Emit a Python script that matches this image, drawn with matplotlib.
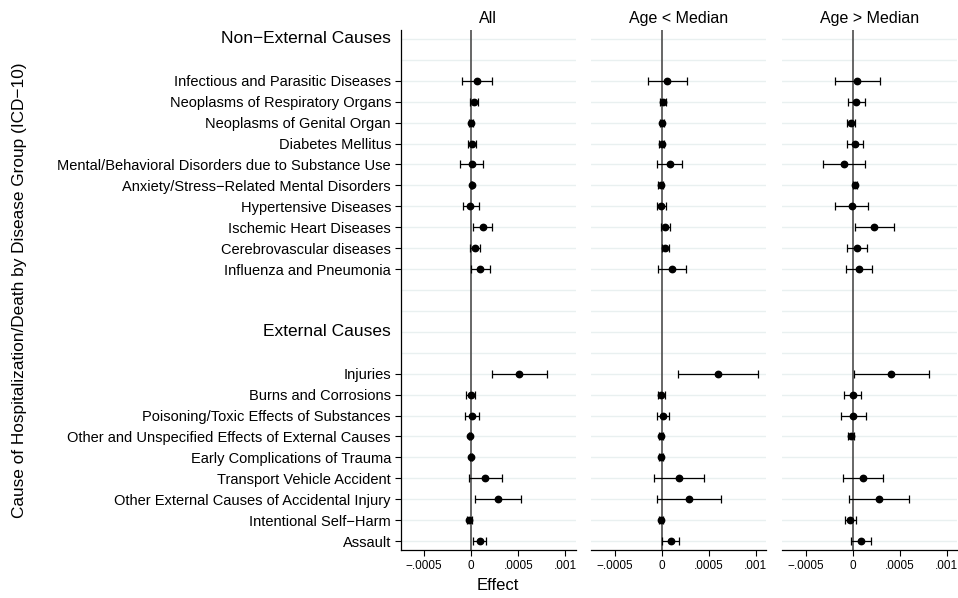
import numpy as np
import matplotlib
matplotlib.use("Agg")
import matplotlib.pyplot as plt
from matplotlib.transforms import ScaledTranslation

plt.rcParams['font.family'] = ['Liberation Sans', 'DejaVu Sans']

# categories
non_external = [
    "Infectious and Parasitic Diseases",
    "Neoplasms of Respiratory Organs",
    "Neoplasms of Genital Organ",
    "Diabetes Mellitus",
    "Mental/Behavioral Disorders due to Substance Use",
    "Anxiety/Stress\u2212Related Mental Disorders",
    "Hypertensive Diseases",
    "Ischemic Heart Diseases",
    "Cerebrovascular diseases",
    "Influenza and Pneumonia",
]
external = [
    "Injuries",
    "Burns and Corrosions",
    "Poisoning/Toxic Effects of Substances",
    "Other and Unspecified Effects of External Causes",
    "Early Complications of Trauma",
    "Transport Vehicle Accident",
    "Other External Causes of Accidental Injury",
    "Intentional Self\u2212Harm",
    "Assault",
]
group_titles = ["Non\u2212External Causes", "External Causes"]
panel_titles = ["All", "Age < Median", "Age > Median"]

# estimates and 95% CI (non-external first, then external), units of effect
est_all = [0.000056, 0.000026, -0.000004, 0.000011, 0.000004, 0.000003, -0.000011, 0.000123, 0.000037, 0.000090,
           0.000511, -0.000004, 0.000007, -0.000015, -0.000004, 0.000146, 0.000284, -0.000019, 0.000090]
lo_all = [-0.000100, -0.000015, -0.000020, -0.000030, -0.000120, -0.000008, -0.000090, 0.000022, -0.000010, -0.000007,
          0.000216, -0.000052, -0.000063, -0.000028, -0.000015, -0.000026, 0.000045, -0.000049, 0.000019]
hi_all = [0.000216, 0.000067, 0.000019, 0.000050, 0.000130, 0.000012, 0.000080, 0.000224, 0.000093, 0.000194,
          0.000802, 0.000041, 0.000078, -0.000002, 0.000008, 0.000325, 0.000526, 0.000011, 0.000157]

est_young = [0.000063, 0.000011, 0.000007, 0.000000, 0.000086, -0.000011, -0.000004, 0.000041, 0.000041, 0.000112,
             0.000597, -0.000007, 0.000011, -0.000007, -0.000004, 0.000183, 0.000287, -0.000007, 0.000097]
lo_young = [-0.000146, -0.000015, -0.000015, -0.000026, -0.000049, -0.000034, -0.000052, -0.000007, 0.000000, -0.000034,
            0.000179, -0.000040, -0.000049, -0.000028, -0.000022, -0.000082, -0.000052, -0.000030, 0.000004]
hi_young = [0.000272, 0.000045, 0.000030, 0.000030, 0.000220, 0.000015, 0.000045, 0.000090, 0.000082, 0.000261,
            0.001020, 0.000034, 0.000078, 0.000014, 0.000014, 0.000448, 0.000630, 0.000018, 0.000190]

est_old = [0.000052, 0.000037, -0.000015, 0.000026, -0.000086, 0.000022, -0.000011, 0.000231, 0.000045, 0.000067,
           0.000410, 0.000000, 0.000007, -0.000019, np.nan, 0.000112, 0.000284, -0.000022, 0.000086]
lo_old = [-0.000190, -0.000052, -0.000060, -0.000060, -0.000310, 0.000000, -0.000190, 0.000022, -0.000060, -0.000075,
          0.000015, -0.000086, -0.000120, -0.000045, np.nan, -0.000100, -0.000034, -0.000078, -0.000015]
hi_old = [0.000291, 0.000131, 0.000030, 0.000112, 0.000134, 0.000045, 0.000168, 0.000440, 0.000150, 0.000209,
          0.000813, 0.000090, 0.000142, 0.000010, np.nan, 0.000325, 0.000604, 0.000034, 0.000191]

panels = [(est_all, lo_all, hi_all), (est_young, lo_young, hi_young), (est_old, lo_old, hi_old)]

# row layout: header, blank, 10 items, 2 blanks, header, blank, 9 items
header_rows = [0, 14]
item_rows = list(range(2, 2 + len(non_external))) + list(range(16, 16 + len(external)))
n_rows = 25
item_labels = non_external + external

xticks = [-0.0005, 0, 0.0005, 0.001]
xticklabels = ["\u2212.0005", "0", ".0005", ".001"]

fig = plt.figure(figsize=(9.58, 5.98), dpi=100)
W, H = 958, 598
lefts = [400.7, 591, 782]
width = 175
top, bottom = 30, 550

grid_col = "#e9f0f0"
for i, (est, lo, hi) in enumerate(panels):
    ax = fig.add_axes([lefts[i] / W, 1 - bottom / H, width / W, (bottom - top) / H])
    est = np.array(est)
    lo = np.array(lo)
    hi = np.array(hi)
    y = np.array(item_rows)
    for r in range(n_rows):
        ax.axhline(r, color=grid_col, lw=1.0, zorder=0)
    ax.axvline(0, color="#5a5a5a", lw=1.3, zorder=1)
    ok = ~np.isnan(est)
    ax.errorbar(est[ok], y[ok], xerr=[est[ok] - lo[ok], hi[ok] - est[ok]], fmt='o', color='black',
                ms=4.6, elinewidth=0.9, capsize=2.6, capthick=0.9, zorder=3)
    ax.set_xlim(-0.00075, 0.00111)
    ax.set_ylim(n_rows - 1 + 0.43, -0.43)
    ax.set_xticks(xticks)
    ax.set_xticklabels(xticklabels, fontsize=8.5)
    ax.tick_params(axis='x', length=4, width=0.8, pad=3)
    for s in ['top', 'right']:
        ax.spines[s].set_visible(False)
    ax.spines['bottom'].set_linewidth(0.9)
    ax.set_title(panel_titles[i], fontsize=11.5, pad=5)
    if i == 0:
        ax.spines['left'].set_linewidth(0.9)
        ax.set_yticks(item_rows)
        ax.set_yticklabels(item_labels, fontsize=10.5)
        ax.tick_params(axis='y', length=4, width=0.8, pad=3)
        off = ScaledTranslation(-10 / 100, 0, fig.dpi_scale_trans)
        for r, t in zip(header_rows, group_titles):
            ax.text(0, r, t, transform=ax.get_yaxis_transform() + off, ha='right', va='center', fontsize=12.5)
    else:
        ax.spines['left'].set_visible(False)
        ax.set_yticks([])

fig.text(498 / W, 1 - 586 / H, "Effect", ha='center', va='center', fontsize=12)
fig.text(20 / W, 1 - 290 / H, "Cause of Hospitalization/Death by Disease Group (ICD\u221210)",
         rotation=90, ha='center', va='center', fontsize=12.4)

fig.savefig("out.png", dpi=100)
